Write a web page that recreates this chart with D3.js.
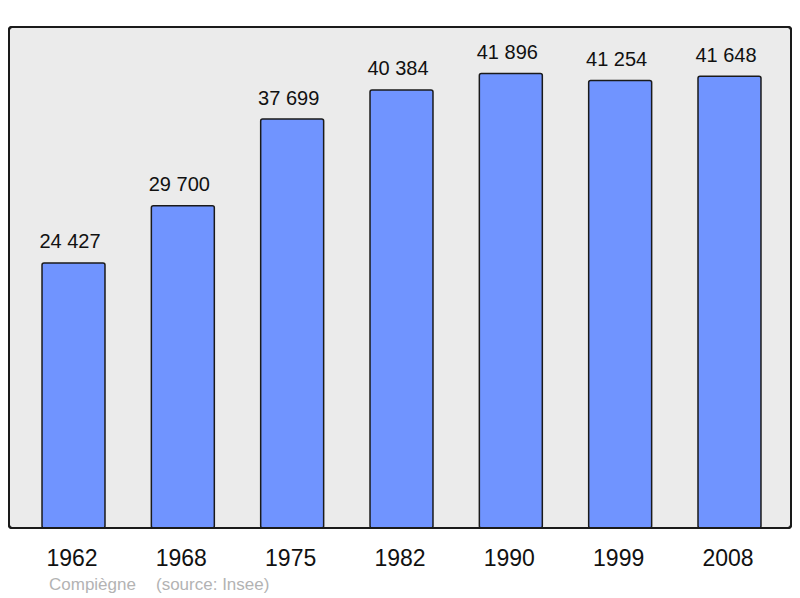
<!DOCTYPE html>
<html><head><meta charset="utf-8">
<script src="https://cdn.jsdelivr.net/npm/d3@7"></script>
<style>body{margin:0;background:#fff}svg{display:block}</style>
</head><body>
<svg id="c" width="800" height="598"></svg>
<script>
const years = ["1962","1968","1975","1982","1990","1999","2008"];
const population = [24427, 29700, 37699, 40384, 41896, 41254, 41648];
const caption = "Compiègne";
const source = "(source: Insee)";

const svg = d3.select("#c");
const font = "Liberation Sans, Arial, sans-serif";
const fmt = v => d3.format(",")(v).replace(/,/g, " ");
const x = d3.scaleBand().domain(years).range([9, 794]).paddingInner(0.424).paddingOuter(0.302);
const y = d3.scaleLinear().domain([0, 46180]).range([528, 27]);

svg.append("rect").attr("x", 9).attr("y", 27).attr("width", 782).attr("height", 501)
  .attr("rx", 3).attr("fill", "#ebebeb").attr("stroke", "#1a1a1a").attr("stroke-width", 2);

svg.selectAll("rect.bar").data(population).enter().append("rect").attr("class","bar")
  .attr("x", (d,i) => x(years[i])).attr("y", d => y(d))
  .attr("width", x.bandwidth()).attr("height", d => y(0) - y(d))
  .attr("rx", 2).attr("fill", "#7094ff").attr("stroke", "#1a1a1a").attr("stroke-width", 1.5);

svg.selectAll("text.val").data(population).enter().append("text").attr("class","val")
  .attr("x", (d,i) => x(years[i]) + x.bandwidth()/2 - 3.5).attr("y", d => y(d) - 14.5)
  .attr("text-anchor","middle").attr("font-family", font)
  .attr("font-size", 20).attr("fill","#111").text(d => fmt(d));

svg.append("rect").attr("x", 9).attr("y", 27).attr("width", 782).attr("height", 501)
  .attr("rx", 3).attr("fill", "none").attr("stroke", "#1a1a1a").attr("stroke-width", 2);

svg.selectAll("text.yr").data(years).enter().append("text").attr("class","yr")
  .attr("x", d => x(d) + x.bandwidth()/2 - 1.5).attr("y", 565.5)
  .attr("text-anchor","middle").attr("font-family", font)
  .attr("font-size", 23).attr("fill","#111").text(d => d);

svg.append("text").attr("x", 49).attr("y", 590).attr("font-family", font)
  .attr("font-size", 17).attr("fill","#b3b3b3").text(caption);
svg.append("text").attr("x", 156).attr("y", 590).attr("font-family", font)
  .attr("font-size", 17).attr("fill","#b3b3b3").text(source);
</script>
</body></html>
